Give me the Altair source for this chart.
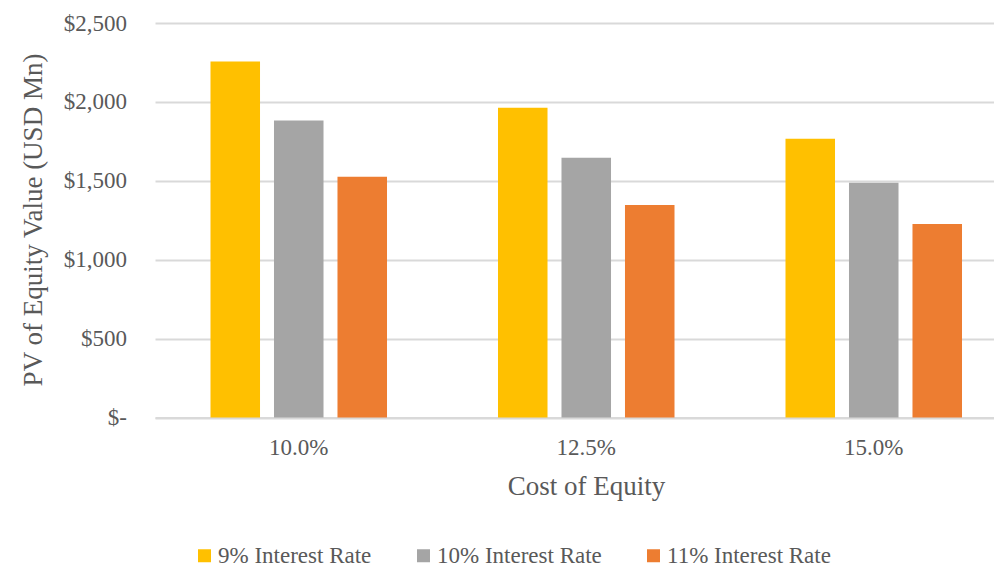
import altair as alt
import pandas as pd

# Sensitivity of equity value to cost of equity and interest rate
cost_of_equity = ["10.0%", "12.5%", "15.0%"]
series = ["9% Interest Rate", "10% Interest Rate", "11% Interest Rate"]
rate_9 = [2256, 1963, 1766]
rate_10 = [1882, 1646, 1487]
rate_11 = [1525, 1347, 1227]
colors = ["#FFC000", "#A5A5A5", "#ED7D31"]
y_ticks = [0, 500, 1000, 1500, 2000, 2500]

rows = []
for name, vals in zip(series, [rate_9, rate_10, rate_11]):
    for coe, v in zip(cost_of_equity, vals):
        rows.append({"coe": coe, "series": name, "value": v})
df = pd.DataFrame(rows)

FONT = "Liberation Serif"
TXT = "#595959"
GRID = "#D9D9D9"

bars = alt.Chart(df).mark_bar().encode(
    x=alt.X(
        "coe:N",
        sort=cost_of_equity,
        scale=alt.Scale(range=[0, 862.5], paddingInner=0, paddingOuter=0),
        axis=alt.Axis(
            title="Cost of Equity",
            labelAngle=0,
            ticks=False,
            labelPadding=19,
            labelFontSize=23,
            titleFontSize=27,
            titleFontWeight="normal",
            titleBaseline="alphabetic",
            titleX=431,
            titleY=76.5,
            domainColor=GRID,
            domainWidth=2,
            grid=False,
        ),
    ),
    xOffset=alt.XOffset(
        "series:N",
        sort=series,
        scale=alt.Scale(domain=series, paddingInner=0.22, paddingOuter=0.874),
    ),
    y=alt.Y(
        "value:Q",
        scale=alt.Scale(domain=[0, 2500], nice=False),
        axis=alt.Axis(
            title="PV of Equity Value (USD Mn)",
            values=y_ticks,
            labelExpr="datum.value == 0 ? '$-\u00a0\u00a0' : '$' + format(datum.value, ',')",
            ticks=False,
            domain=False,
            labelPadding=28.5,
            labelFontSize=23,
            titleFontSize=27,
            titleFontWeight="normal",
            titleAngle=-90,
            titleAlign="center",
            titleBaseline="alphabetic",
            titleX=-114,
            titleY=196.5,
            gridColor=GRID,
            gridWidth=2,
        ),
    ),
    color=alt.Color(
        "series:N",
        sort=series,
        scale=alt.Scale(domain=series, range=colors),
        legend=alt.Legend(
            title=None,
            orient="none",
            direction="horizontal",
            legendX=38,
            legendY=521,
            symbolType="square",
            symbolSize=169,
            symbolStrokeWidth=0,
            labelFontSize=23,
            labelOffset=2,
            columnPadding=40,
            labelLimit=400,
            padding=0,
        ),
    ),
)

chart = bars.properties(
    width=839,
    height=394.5,
    autosize=alt.AutoSizeParams(type="none"),
    padding={"left": 155, "top": 23, "right": 0, "bottom": 149.5},
).configure_view(stroke=None).configure_axis(
    labelFont=FONT, titleFont=FONT, labelColor=TXT, titleColor=TXT
).configure_legend(labelFont=FONT, labelColor=TXT)

chart.save("out.html", embed_options={"renderer": "svg", "actions": False})
